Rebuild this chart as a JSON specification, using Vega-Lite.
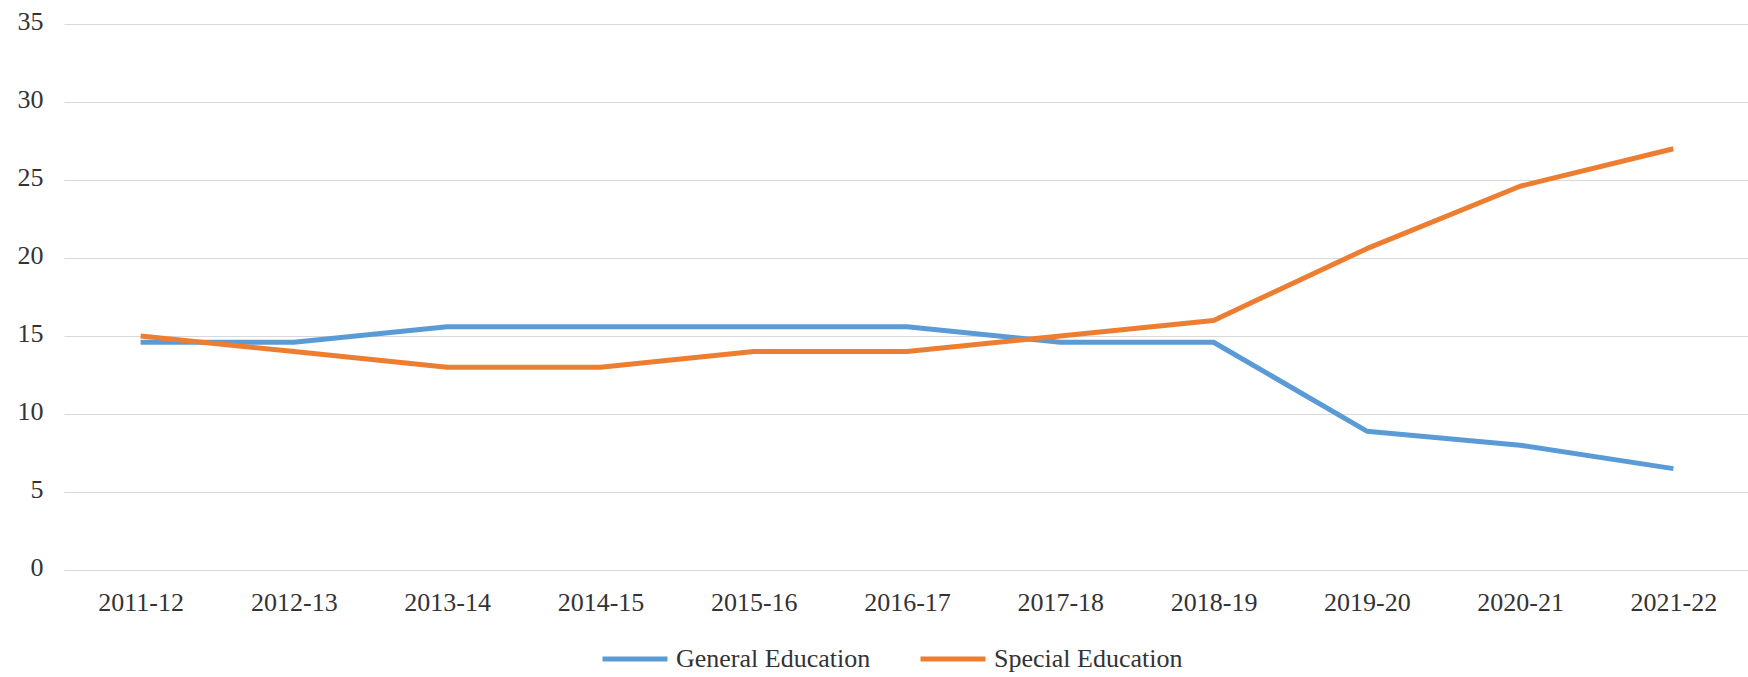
{
  "$schema": "https://vega.github.io/schema/vega-lite/v6.json",
  "autosize": {"type": "none"},
  "width": 1686,
  "height": 546,
  "padding": {"left": 64, "top": 24, "right": 0, "bottom": 107},
  "background": "#ffffff",
  "config": {
    "view": {"stroke": null},
    "font": "Liberation Serif",
    "axis": {
      "labelFont": "Liberation Serif",
      "labelFontSize": 26,
      "labelColor": "#333333",
      "ticks": false,
      "tickSize": 0,
      "gridColor": "#d9d9d9",
      "gridWidth": 1.2,
      "title": null
    }
  },
  "data": {
    "values": [
      {"year": "2011-12", "group": "General Education", "value": 14.6},
      {"year": "2012-13", "group": "General Education", "value": 14.6},
      {"year": "2013-14", "group": "General Education", "value": 15.6},
      {"year": "2014-15", "group": "General Education", "value": 15.6},
      {"year": "2015-16", "group": "General Education", "value": 15.6},
      {"year": "2016-17", "group": "General Education", "value": 15.6},
      {"year": "2017-18", "group": "General Education", "value": 14.6},
      {"year": "2018-19", "group": "General Education", "value": 14.6},
      {"year": "2019-20", "group": "General Education", "value": 8.9},
      {"year": "2020-21", "group": "General Education", "value": 8.0},
      {"year": "2021-22", "group": "General Education", "value": 6.5},
      {"year": "2011-12", "group": "Special Education", "value": 15.0},
      {"year": "2012-13", "group": "Special Education", "value": 14.0},
      {"year": "2013-14", "group": "Special Education", "value": 13.0},
      {"year": "2014-15", "group": "Special Education", "value": 13.0},
      {"year": "2015-16", "group": "Special Education", "value": 14.0},
      {"year": "2016-17", "group": "Special Education", "value": 14.0},
      {"year": "2017-18", "group": "Special Education", "value": 15.0},
      {"year": "2018-19", "group": "Special Education", "value": 16.0},
      {"year": "2019-20", "group": "Special Education", "value": 20.6},
      {"year": "2020-21", "group": "Special Education", "value": 24.6},
      {"year": "2021-22", "group": "Special Education", "value": 27.0}
    ]
  },
  "mark": {"type": "line", "strokeWidth": 5, "strokeJoin": "round"},
  "encoding": {
    "x": {
      "field": "year",
      "type": "ordinal",
      "sort": null,
      "scale": {"type": "point", "padding": 0.5},
      "axis": {
        "labelAngle": 0,
        "labelPadding": 19,
        "domain": true,
        "domainColor": "#d9d9d9",
        "domainWidth": 1.2,
        "grid": false
      }
    },
    "y": {
      "field": "value",
      "type": "quantitative",
      "scale": {"domain": [0, 35], "nice": false},
      "axis": {
        "values": [0, 5, 10, 15, 20, 25, 30, 35],
        "domain": false,
        "grid": true,
        "labelPadding": 21,
        "labelOffset": -3
      }
    },
    "color": {
      "field": "group",
      "type": "nominal",
      "scale": {
        "domain": ["General Education", "Special Education"],
        "range": ["#5b9bd5", "#ed7d31"]
      },
      "legend": {
        "title": null,
        "orient": "none",
        "direction": "horizontal",
        "legendX": 536,
        "legendY": 600,
        "symbolType": "stroke",
        "symbolSize": 4225,
        "symbolStrokeWidth": 5,
        "labelFont": "Liberation Serif",
        "labelFontSize": 26,
        "labelColor": "#333333",
        "labelOffset": 6,
        "labelLimit": 400,
        "columnPadding": 39
      }
    }
  }
}
